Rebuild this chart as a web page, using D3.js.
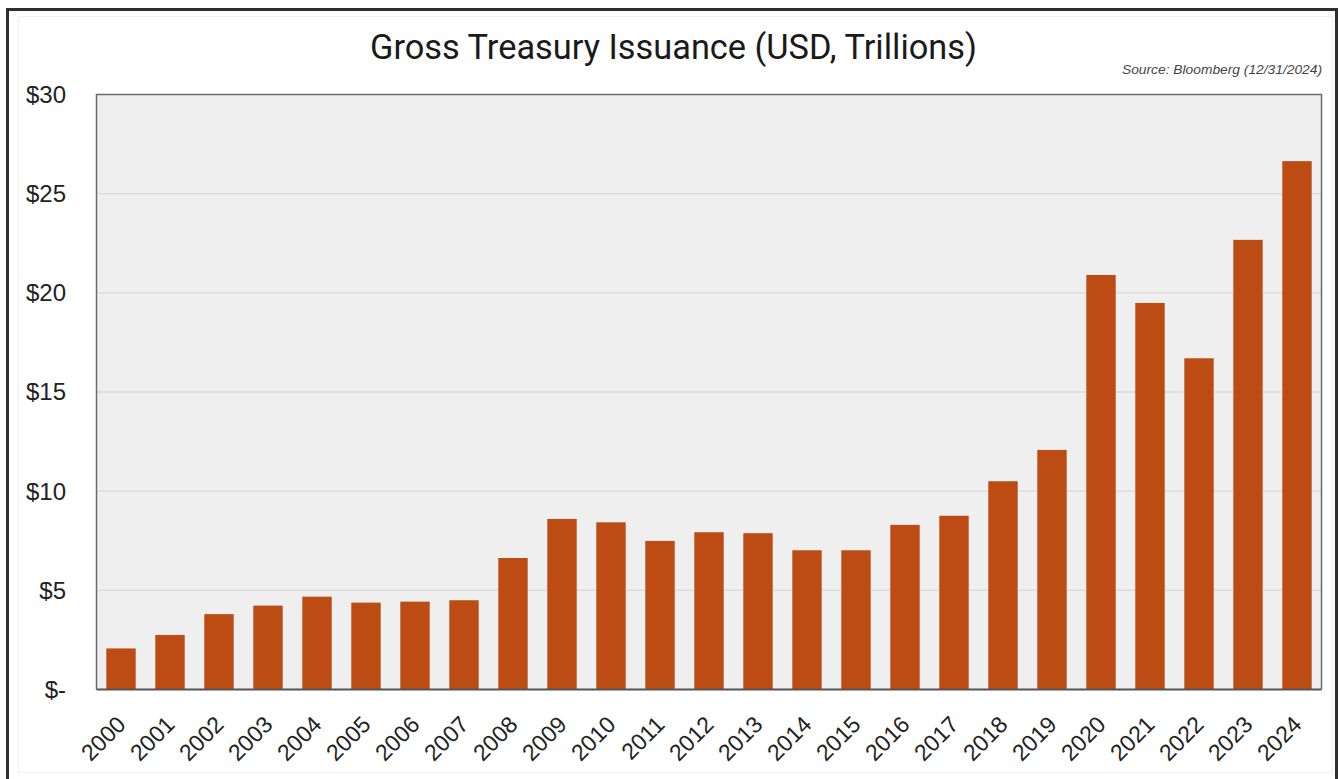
<!DOCTYPE html>
<html>
<head>
<meta charset="utf-8">
<script src="https://cdn.jsdelivr.net/npm/d3@7"></script>
<style>
  html, body { margin: 0; padding: 0; background: #ffffff; }
  svg { display: block; }
</style>
</head>
<body>
<svg id="chart" width="1339" height="779"></svg>
<script>
// Gross Treasury issuance by calendar year, USD trillions
const years = ["2000","2001","2002","2003","2004","2005","2006","2007","2008","2009",
               "2010","2011","2012","2013","2014","2015","2016","2017","2018","2019",
               "2020","2021","2022","2023","2024"];
const issuance = [2.07, 2.75, 3.80, 4.23, 4.68, 4.38, 4.43, 4.50, 6.63, 8.60,
                  8.43, 7.49, 7.93, 7.88, 7.02, 7.02, 8.30, 8.76, 10.50, 12.08,
                  20.90, 19.49, 16.70, 22.67, 26.64];
const yTicks = [0, 5, 10, 15, 20, 25, 30];
const yTickLabels = ["$-", "$5", "$10", "$15", "$20", "$25", "$30"];

const titleText = "Gross Treasury Issuance (USD, Trillions)";
const sourceText = "Source: Bloomberg (12/31/2024)";

const svg = d3.select("#chart");
const plot = { left: 96.5, right: 1321.5, top: 94.5, bottom: 689.5 };

// outer frame
svg.append("rect")
  .attr("x", 7.5).attr("y", 9.5).attr("width", 1329).attr("height", 780)
  .attr("fill", "#ffffff").attr("stroke", "#2e2e2e").attr("stroke-width", 3);
svg.append("rect")
  .attr("x", 18.5).attr("y", 16.5).attr("width", 1314).attr("height", 756)
  .attr("fill", "none").attr("stroke", "#f1f1f1").attr("stroke-width", 1);

const x = d3.scaleBand()
  .domain(years)
  .range([plot.left, plot.right])
  .paddingInner(0.4)
  .paddingOuter(0.2);

const y = d3.scaleLinear()
  .domain([0, 30])
  .range([plot.bottom, plot.top]);

// plot background
svg.append("rect")
  .attr("x", plot.left).attr("y", plot.top)
  .attr("width", plot.right - plot.left).attr("height", plot.bottom - plot.top)
  .attr("fill", "#efefef");

// horizontal gridlines
svg.append("g")
  .selectAll("line")
  .data(yTicks.filter(v => v > 0 && v < 30))
  .join("line")
  .attr("x1", plot.left).attr("x2", plot.right)
  .attr("y1", d => y(d)).attr("y2", d => y(d))
  .attr("stroke", "#dddddd").attr("stroke-width", 1.5);

// bars
svg.append("g")
  .selectAll("rect")
  .data(years.map((yr, i) => ({ yr, v: issuance[i] })))
  .join("rect")
  .attr("x", d => x(d.yr))
  .attr("y", d => y(d.v))
  .attr("width", x.bandwidth())
  .attr("height", d => y(0) - y(d.v))
  .attr("fill", "#bd4b14");

// plot border (left, top, right) and baseline
svg.append("path")
  .attr("d", `M${plot.left},${plot.bottom} V${plot.top} H${plot.right} V${plot.bottom}`)
  .attr("fill", "none").attr("stroke", "#6a6a6a").attr("stroke-width", 1.5);
svg.append("line")
  .attr("x1", plot.left).attr("x2", plot.right)
  .attr("y1", plot.bottom).attr("y2", plot.bottom)
  .attr("stroke", "#555555").attr("stroke-width", 1.8);

// y axis labels
const yAxis = d3.axisLeft(y)
  .tickValues(yTicks)
  .tickFormat((d, i) => yTickLabels[i])
  .tickSize(0)
  .tickPadding(0);
const gy = svg.append("g")
  .attr("transform", "translate(66,0)")
  .call(yAxis);
gy.select(".domain").remove();
gy.selectAll("text")
  .attr("font-family", "'Liberation Sans', Arial, sans-serif")
  .attr("font-size", 24)
  .attr("fill", "#222222")
  .attr("dy", "0.33em");

// x axis labels, rotated
const xAxis = d3.axisBottom(x).tickSize(0).tickPadding(0);
const gx = svg.append("g")
  .attr("transform", "translate(0,0)")
  .call(xAxis);
gx.select(".domain").remove();
gx.selectAll(".tick").attr("transform", d => `translate(${x(d) + x.bandwidth() / 2},0)`);
gx.selectAll("text")
  .attr("font-family", "'Liberation Sans', Arial, sans-serif")
  .attr("font-size", 23)
  .attr("fill", "#222222")
  .attr("text-anchor", "end")
  .attr("dy", null)
  .attr("y", null)
  .attr("transform", "translate(6,726) rotate(-45)");

// title
svg.append("text")
  .attr("x", 370).attr("y", 58.5)
  .attr("textLength", 607)
  .attr("lengthAdjust", "spacingAndGlyphs")
  .attr("font-family", "Roboto, 'Noto Sans', sans-serif")
  .attr("font-size", 35)
  .attr("fill", "#1a1a1a")
  .text(titleText);

// source note
svg.append("text")
  .attr("x", 1122).attr("y", 74)
  .attr("textLength", 200)
  .attr("lengthAdjust", "spacingAndGlyphs")
  .attr("font-family", "'Liberation Sans', Arial, sans-serif")
  .attr("font-style", "italic")
  .attr("font-size", 12)
  .attr("fill", "#444444")
  .text(sourceText);
</script>
</body>
</html>
